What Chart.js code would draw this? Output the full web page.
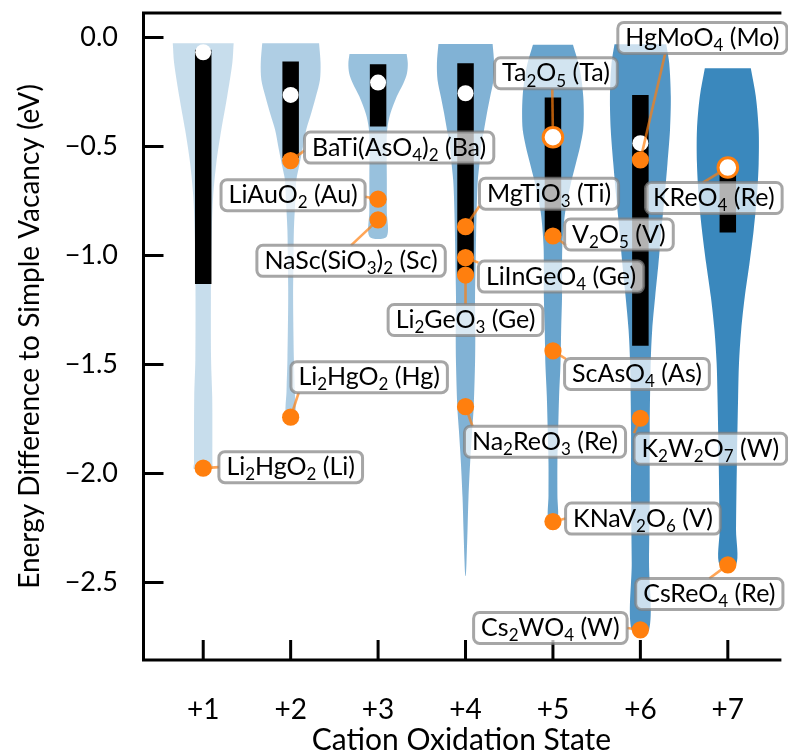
<!DOCTYPE html>
<html>
<head>
<meta charset="utf-8">
<script src="https://cdn.jsdelivr.net/npm/chart.js@4.4.1/dist/chart.umd.min.js"></script>
<style>
  html, body { margin: 0; padding: 0; background: #fff; }
  #c { display: block; }
</style>
</head>
<body>
<canvas id="c" width="788" height="755"></canvas>
<script>
// Cation oxidation state vs. energy difference to simple vacancy (violins)

const STATES = [1, 2, 3, 4, 5, 6, 7];
const STATE_LABELS = ["+1", "+2", "+3", "+4", "+5", "+6", "+7"];
const Y_TICKS = [0.0, -0.5, -1.0, -1.5, -2.0, -2.5];

// violin outlines: energy levels (eV) and half widths (x units)
const VIOLIN_Y = [
  [-0.027, -0.117, -0.273, -0.424, -0.576, -0.732, -0.883, -1.034, -1.19, -1.479, -1.649, -1.952, -1.98],
  [-0.027, -0.117, -0.195, -0.272, -0.348, -0.424, -0.501, -0.577, -0.654, -0.73, -0.883, -1.036, -1.19, -1.479, -1.62, -1.742],
  [-0.076, -0.12, -0.165, -0.21, -0.27, -0.35, -0.42, -0.5, -0.65, -0.8, -0.914],
  [-0.03, -0.118, -0.195, -0.272, -0.348, -0.424, -0.501, -0.577, -0.654, -0.73, -0.883, -1.036, -1.19, -1.35, -1.494, -1.694, -1.8, -1.95, -2.11, -2.26, -2.41, -2.47],
  [-0.034, -0.118, -0.195, -0.272, -0.348, -0.424, -0.501, -0.577, -0.654, -0.73, -0.807, -0.883, -0.96, -1.036, -1.19, -1.34, -1.494, -1.647, -1.8, -1.95, -2.1, -2.221],
  [-0.031, -0.118, -0.272, -0.424, -0.577, -0.73, -0.883, -1.036, -1.19, -1.342, -1.494, -1.8, -2.106, -2.41, -2.72],
  [-0.141, -0.27, -0.424, -0.577, -0.73, -0.883, -1.036, -1.19, -1.342, -1.494, -1.647, -1.95, -2.26, -2.42],
];
const VIOLIN_W = [
  [0.348, 0.333, 0.273, 0.207, 0.15, 0.113, 0.098, 0.09, 0.088, 0.09, 0.103, 0.105, 0.105],
  [0.325, 0.342, 0.335, 0.288, 0.235, 0.178, 0.141, 0.104, 0.065, 0.056, 0.037, 0.032, 0.028, 0.037, 0.047, 0.05],
  [0.327, 0.34, 0.33, 0.29, 0.215, 0.14, 0.105, 0.098, 0.1, 0.1, 0.098],
  [0.31, 0.327, 0.32, 0.282, 0.245, 0.212, 0.178, 0.16, 0.141, 0.132, 0.122, 0.116, 0.109, 0.112, 0.109, 0.094, 0.076, 0.053, 0.034, 0.023, 0.011, 0.003],
  [0.229, 0.291, 0.327, 0.347, 0.353, 0.346, 0.31, 0.263, 0.214, 0.173, 0.138, 0.119, 0.107, 0.104, 0.104, 0.094, 0.087, 0.07, 0.06, 0.051, 0.051, 0.05],
  [0.296, 0.33, 0.348, 0.339, 0.31, 0.277, 0.24, 0.207, 0.169, 0.135, 0.118, 0.107, 0.107, 0.099, 0.099],
  [0.263, 0.32, 0.353, 0.353, 0.333, 0.296, 0.248, 0.194, 0.153, 0.128, 0.118, 0.104, 0.094, 0.094],
];

// interquartile bars and medians
const BOX_TOP = [-0.057, -0.111, -0.123, -0.118, -0.276, -0.264, -0.6];
const BOX_BOTTOM = [-1.131, -0.553, -0.409, -1.09, -0.911, -1.415, -0.895];
const MEDIANS = [-0.068, -0.264, -0.207, -0.256, -0.458, -0.485, -0.597];

// highlighted structures
const PICK_STATE = [1, 2, 2, 3, 3, 4, 4, 4, 4, 5, 5, 5, 5, 6, 6, 6, 7, 7];
const PICK_ENERGY = [-1.976, -1.742, -0.565, -0.742, -0.837, -0.868, -1.01, -1.09, -1.694,
                     -0.458, -0.911, -1.438, -2.221, -0.562, -1.747, -2.718, -0.597, -2.42];
const PICK_LABELS = [
  "Li_2HgO_2 (Li)", "Li_2HgO_2 (Hg)", "BaTi(AsO_4)_2 (Ba)", "LiAuO_2 (Au)", "NaSc(SiO_3)_2 (Sc)",
  "MgTiO_3 (Ti)", "LiInGeO_4 (Ge)", "Li_2GeO_3 (Ge)", "Na_2ReO_3 (Re)",
  "Ta_2O_5 (Ta)", "V_2O_5 (V)", "ScAsO_4 (As)", "KNaV_2O_6 (V)",
  "HgMoO_4 (Mo)", "K_2W_2O_7 (W)", "Cs_2WO_4 (W)", "KReO_4 (Re)", "CsReO_4 (Re)",
];

// label placement: box centre offset from its point (px), and where the leader meets the box
const LABEL_OFFSET = [
  [87.5, -1], [78.5, -40], [108.5, -13], [-85, -4], [-27, 41], [83.5, -33], [95.5, 19], [0, 45], [79.5, 35],
  [3, -64], [66, -1.5], [84, 23], [90, -3], [62, -122], [70, 30.5], [-90, -2], [-14, 30.5], [-18.5, 29],
];
const LEADER_AT = [
  [0, 0.5], [0.05, 1], [0, 0.6], [1, 0.55], [0.5, 0], [0, 0.9], [0, 0.05], [0.5, 0], [0.05, 0],
  [0.47, 1], [0.02, 0.85], [0.01, 0.02], [0, 0.5], [0.28, 1], [0, 0], [1, 0.5], [0.42, 0], [0.5, 0],
];

const VIOLIN_ALPHA = [0.25, 0.355, 0.46, 0.565, 0.67, 0.775, 0.88];
const ORANGE = "#ff7f0e";
const FONT = "Lato, 'Open Sans', sans-serif";
const LABEL_SIZE = 25, SUB_SIZE = 17, SUB_SHIFT = 5.3;
const PAD_X = 7.5, BOX_H = 31;

const isRing = PICK_STATE.map((s, i) => Math.abs(PICK_ENERGY[i] - MEDIANS[s - 1]) < 0.005);

const violinSets = STATES.map((s, i) => {
  const ys = VIOLIN_Y[i], ws = VIOLIN_W[i];
  const right = ys.map((y, k) => ({ x: s + ws[k], y }));
  const left = ys.map((y, k) => ({ x: s - ws[k], y })).reverse();
  return {
    data: right.concat(left), showLine: true, fill: "shape",
    backgroundColor: `rgba(31,119,180,${VIOLIN_ALPHA[i]})`,
    borderWidth: 0, pointRadius: 0, tension: 0.3, order: 4,
  };
});

const barSets = STATES.map((s, i) => ({
  data: [{ x: s, y: BOX_TOP[i] }, { x: s, y: BOX_BOTTOM[i] }],
  showLine: true, fill: false, borderColor: "#000", borderWidth: 16.5,
  borderCapStyle: "butt", pointRadius: 0, order: 3,
}));

const medianSet = {
  data: STATES.map((s, i) => ({ x: s, y: MEDIANS[i] })),
  showLine: false, pointRadius: 8, pointBackgroundColor: "#fff", pointBorderWidth: 0, order: 2,
};

const pickSet = {
  data: PICK_STATE.map((s, i) => ({ x: s, y: PICK_ENERGY[i] })),
  showLine: false,
  pointRadius: isRing.map(r => r ? 9.8 : 8.6),
  pointBackgroundColor: isRing.map(r => r ? "#fff" : ORANGE),
  pointBorderColor: ORANGE,
  pointBorderWidth: isRing.map(r => r ? 3 : 0),
  order: 1,
};

function richParts(label) {
  return label.split(/_(\d)/).map((t, k) => ({ t, sub: k % 2 === 1 })).filter(p => p.t.length);
}
function setFont(ctx, sub) { ctx.font = `${sub ? SUB_SIZE : LABEL_SIZE}px ${FONT}`; }
function textWidth(ctx, parts) {
  let w = 0;
  for (const p of parts) { setFont(ctx, p.sub); w += ctx.measureText(p.t).width; }
  return w;
}
function noEdgePadding(s) { s.paddingTop = 0; s.paddingBottom = 0; s.paddingLeft = 0; s.paddingRight = 0; }

const annotate = {
  id: "annotate",
  afterDatasetsDraw(chart) {
    const { ctx, chartArea: a, scales: { x, y } } = chart;
    ctx.save();

    // frame (left, top, bottom) and inward ticks
    ctx.strokeStyle = "#000"; ctx.lineWidth = 3; ctx.lineJoin = "miter"; ctx.lineCap = "butt";
    ctx.beginPath();
    ctx.moveTo(a.right + 2, a.top); ctx.lineTo(a.left, a.top);
    ctx.lineTo(a.left, a.bottom); ctx.lineTo(a.right + 2, a.bottom);
    ctx.stroke();
    ctx.beginPath();
    Y_TICKS.forEach(v => { const p = y.getPixelForValue(v); ctx.moveTo(a.left, p); ctx.lineTo(a.left + 20, p); });
    STATES.forEach(v => { const p = x.getPixelForValue(v); ctx.moveTo(p, a.bottom); ctx.lineTo(p, a.bottom - 20); });
    ctx.stroke();

    // leaders, boxes, labels
    PICK_LABELS.forEach((lab, i) => {
      const px = x.getPixelForValue(PICK_STATE[i]);
      const py = y.getPixelForValue(PICK_ENERGY[i]);
      const parts = richParts(lab);
      const tw = textWidth(ctx, parts);
      const bw = tw + 2 * PAD_X, bh = BOX_H;
      const cx = px + LABEL_OFFSET[i][0], cy = py + LABEL_OFFSET[i][1];
      const bx = cx - bw / 2, by = cy - bh / 2;

      const tx = bx + LEADER_AT[i][0] * bw, ty = by + LEADER_AT[i][1] * bh;
      const len = Math.hypot(tx - px, ty - py) || 1;
      const r0 = isRing[i] ? 11 : 8;
      ctx.strokeStyle = "rgba(255,127,14,0.7)"; ctx.lineWidth = 2.6;
      ctx.beginPath();
      ctx.moveTo(px + (tx - px) * r0 / len, py + (ty - py) * r0 / len);
      ctx.lineTo(tx, ty);
      ctx.stroke();

      ctx.beginPath();
      ctx.roundRect(bx, by, bw, bh, 6);
      ctx.fillStyle = "rgba(255,255,255,0.7)"; ctx.fill();
      ctx.strokeStyle = "rgba(128,128,128,0.7)"; ctx.lineWidth = 3; ctx.stroke();

      ctx.fillStyle = "#000"; ctx.textBaseline = "alphabetic"; ctx.textAlign = "left";
      let cur = cx - tw / 2;
      const base = cy + 8;
      for (const p of parts) {
        setFont(ctx, p.sub);
        ctx.fillText(p.t, cur, base + (p.sub ? SUB_SHIFT : 0));
        cur += ctx.measureText(p.t).width;
      }
    });
    ctx.restore();
  },
};

new Chart(document.getElementById("c"), {
  type: "line",
  data: { datasets: [...violinSets, ...barSets, medianSet, pickSet] },
  options: {
    responsive: false, animation: false, devicePixelRatio: 1, events: [],
    layout: { padding: { top: 13, right: 0, bottom: 0, left: 0 } },
    plugins: { legend: { display: false }, tooltip: { enabled: false } },
    scales: {
      x: {
        type: "linear", position: "bottom", min: 0.317, max: 7.59,
        afterFit: s => { s.height = 95; noEdgePadding(s); },
        afterBuildTicks: s => { s.ticks = STATES.map(v => ({ value: v })); },
        grid: { display: false, drawTicks: false }, border: { display: false },
        ticks: { color: "#000", font: { family: FONT, size: 28 }, padding: 33,
                 callback: v => STATE_LABELS[STATES.indexOf(v)], maxRotation: 0, autoSkip: false },
        title: { display: true, text: "Cation Oxidation State", color: "#000",
                 font: { family: FONT, size: 30, lineHeight: 1 }, padding: { top: 0, bottom: 0 } },
      },
      y: {
        type: "linear", min: -2.856, max: 0.112,
        afterFit: s => { s.width = 143.5; noEdgePadding(s); },
        afterBuildTicks: s => { s.ticks = Y_TICKS.map(v => ({ value: v })); },
        grid: { display: false, drawTicks: false }, border: { display: false },
        ticks: { color: "#000", font: { family: FONT, size: 27 }, padding: 25.5,
                 callback: v => (v === 0 ? "0.0" : "\u2212" + Math.abs(v).toFixed(1)) },
        title: { display: true, text: "Energy Difference to Simple Vacancy (eV)", color: "#000",
                 font: { family: FONT, size: 28, lineHeight: 1 }, padding: { top: 16, bottom: 0 } },
      },
    },
  },
  plugins: [annotate],
});
</script>
</body>
</html>
